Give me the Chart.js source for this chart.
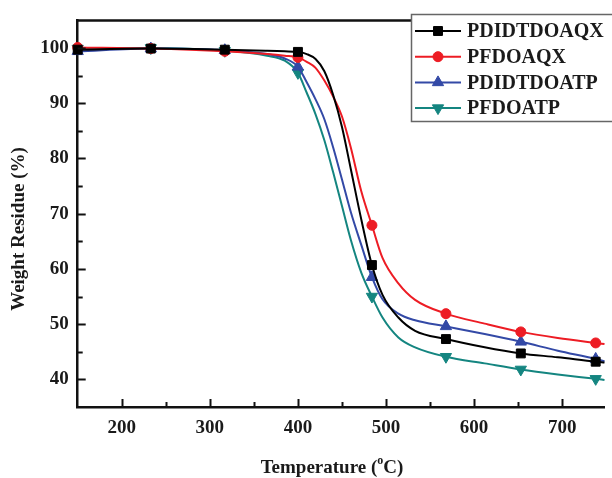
<!DOCTYPE html>
<html>
<head>
<meta charset="utf-8">
<script src="https://cdn.jsdelivr.net/npm/chart.js"></script>
<style>
  body { margin: 0; background: #fff; overflow: hidden; }
  canvas { display: block; }
</style>
</head>
<body>
<canvas id="tgaChart" width="612" height="478"></canvas>
<script>
/*=============== DATA ===============*/

const temps = [150, 233, 317, 365, 385, 400, 410, 420, 430, 440, 450, 460, 472, 484, 496, 514, 533, 568, 612, 653, 695, 738, 748];
const markerTemps = [150, 233, 317, 400, 484, 568, 653, 738];

const pdidtdoaqx = [99.7, 99.9, 99.7, 99.5, 99.4, 99.3, 98.9, 98.0, 95.8, 91.5, 85.7, 78.1, 68.9, 60.7, 55.3, 51.2, 48.8, 47.3, 45.8, 44.7, 44.0, 43.2, 43.05];
const pfdoaqx = [100.1, 99.9, 99.4, 98.9, 98.6, 98.3, 97.5, 96.4, 94.1, 91.2, 87.6, 82.0, 74.0, 67.9, 62.0, 57.4, 54.4, 51.9, 50.1, 48.6, 47.5, 46.6, 46.4];
const pdidtdoatp = [99.4, 99.9, 99.6, 98.9, 98.1, 96.6, 93.8, 90.7, 87.1, 82.0, 76.2, 70.3, 64.3, 58.5, 54.5, 51.9, 50.7, 49.6, 48.2, 46.8, 45.2, 43.7, 43.3];
const pfdoatp = [99.9, 100, 99.5, 98.6, 97.7, 95.5, 91.9, 88.0, 83.3, 77.5, 71.4, 65.3, 59.3, 55.0, 51.2, 47.6, 45.8, 44.1, 42.9, 41.8, 40.9, 40.1, 39.9];

const xTicks = [200, 300, 400, 500, 600, 700];
const xMinor = [250, 350, 450, 550, 650];
const yTicks = [40, 50, 60, 70, 80, 90, 100];
const yMinor = [45, 55, 65, 75, 85, 95];

const serif = "'Liberation Serif', 'Times New Roman', serif";

function series(label, values, color, style, radius, rotation) {
  return {
    label: label,
    data: temps.map((t, i) => ({ x: t, y: values[i] })),
    borderColor: color,
    backgroundColor: color,
    borderWidth: 2,
    cubicInterpolationMode: "monotone",
    pointStyle: style,
    pointRotation: rotation || 0,
    pointRadius: temps.map((t) => (markerTemps.includes(t) ? radius : 0)),
    pointBorderWidth: 1,
    clip: false,
  };
}

/*=============== PLUGINS ===============*/

// inward tick marks, top frame line, axis titles and the boxed legend
const frame = {
  id: "frame",
  afterDraw(chart) {
    const { ctx, chartArea: a, scales } = chart;
    const x = scales.x;
    const y = scales.y;
    ctx.save();
    ctx.strokeStyle = "#111";

    ctx.lineWidth = 2;
    yTicks.concat(yMinor).forEach((v) => {
      const py = Math.round(y.getPixelForValue(v)) + 0.5;
      const len = yTicks.includes(v) ? 8 : 5;
      ctx.beginPath();
      ctx.moveTo(a.left, py);
      ctx.lineTo(a.left + len, py);
      ctx.stroke();
    });
    xTicks.concat(xMinor).forEach((v) => {
      const px = Math.round(x.getPixelForValue(v)) + 0.5;
      const len = xTicks.includes(v) ? 8 : 5;
      ctx.beginPath();
      ctx.moveTo(px, a.bottom);
      ctx.lineTo(px, a.bottom - len);
      ctx.stroke();
    });

    ctx.lineWidth = 2.5;
    ctx.beginPath();
    ctx.moveTo(a.left - 1, a.top);
    ctx.lineTo(a.right, a.top);
    ctx.stroke();

    // axis titles
    ctx.fillStyle = "#1a1a1a";
    ctx.textBaseline = "middle";
    ctx.font = "bold 19px " + serif;
    ctx.save();
    ctx.translate(19, 229);
    ctx.rotate(-Math.PI / 2);
    ctx.textAlign = "center";
    ctx.fillText("Weight Residue (%)", 0, 0);
    ctx.restore();

    const p1 = "Temperature (";
    const p3 = "C)";
    const w1 = ctx.measureText(p1).width;
    const w3 = ctx.measureText(p3).width;
    ctx.font = "bold 12px " + serif;
    const w2 = ctx.measureText("o").width;
    let tx = 332 - (w1 + w2 + w3) / 2;
    const ty = 468;
    ctx.textAlign = "left";
    ctx.font = "bold 19px " + serif;
    ctx.fillText(p1, tx, ty);
    tx += w1;
    ctx.font = "bold 12px " + serif;
    ctx.fillText("o", tx, ty - 7);
    tx += w2;
    ctx.font = "bold 19px " + serif;
    ctx.fillText(p3, tx, ty);

    // legend
    const bx = 411, by = 14, bh = 107;
    ctx.fillStyle = "#fff";
    ctx.fillRect(bx, by, chart.width - bx + 5, bh);
    ctx.strokeStyle = "#666";
    ctx.lineWidth = 1.5;
    ctx.strokeRect(bx + 0.5, by + 0.5, chart.width - bx + 5, bh);

    chart.data.datasets.forEach((ds, i) => {
      const ly = 31 + i * 25.7;
      ctx.strokeStyle = ds.borderColor;
      ctx.lineWidth = 2;
      ctx.beginPath();
      ctx.moveTo(415, ly);
      ctx.lineTo(461, ly);
      ctx.stroke();
      ctx.fillStyle = ds.backgroundColor;
      ctx.lineWidth = 1;
      Chart.helpers.drawPoint(ctx, {
        pointStyle: ds.pointStyle,
        radius: Math.max(...ds.pointRadius),
        rotation: ds.pointRotation,
        borderWidth: 1,
      }, 438, ly);
      ctx.fillStyle = "#1a1a1a";
      ctx.font = "bold 20px " + serif;
      ctx.textAlign = "left";
      ctx.textBaseline = "middle";
      ctx.fillText(ds.label, 467, ly + 1);
    });
    ctx.restore();
  },
};

/*=============== CHART ===============*/

const tickFont = { family: serif, size: 19, weight: "bold" };

const ctx = document.getElementById("tgaChart").getContext("2d");
const tgaChart = new Chart(ctx, {
  type: "line",
  data: {
    datasets: [
      series("PDIDTDOAQX", pdidtdoaqx, "#000000", "rect", 6.3),
      series("PFDOAQX", pfdoaqx, "#ed1c24", "circle", 5),
      series("PDIDTDOATP", pdidtdoatp, "#3349a6", "triangle", 6.5),
      series("PFDOATP", pfdoatp, "#148580", "triangle", 6.5, 180),
    ],
  },
  options: {
    responsive: false,
    animation: false,
    events: [],
    layout: { padding: { top: 15, right: 0, bottom: 0, left: 0 } },
    plugins: { legend: { display: false }, tooltip: { enabled: false } },
    scales: {
      x: {
        type: "linear",
        min: 150,
        max: 748,
        afterBuildTicks: (s) => { s.ticks = xTicks.map((v) => ({ value: v })); },
        afterFit: (s) => { s.height = 71; },
        grid: { display: false, drawTicks: false },
        border: { display: true, color: "#111", width: 2.5 },
        ticks: { padding: 10, color: "#1a1a1a", font: tickFont, maxRotation: 0 },
      },
      y: {
        type: "linear",
        min: 35,
        max: 105,
        afterBuildTicks: (s) => { s.ticks = yTicks.map((v) => ({ value: v })); },
        afterFit: (s) => { s.width = 77.7; },
        grid: { display: false, drawTicks: false },
        border: { display: true, color: "#111", width: 2.5 },
        ticks: { padding: 9, color: "#1a1a1a", font: tickFont },
      },
    },
  },
  plugins: [frame],
});
</script>
</body>
</html>
